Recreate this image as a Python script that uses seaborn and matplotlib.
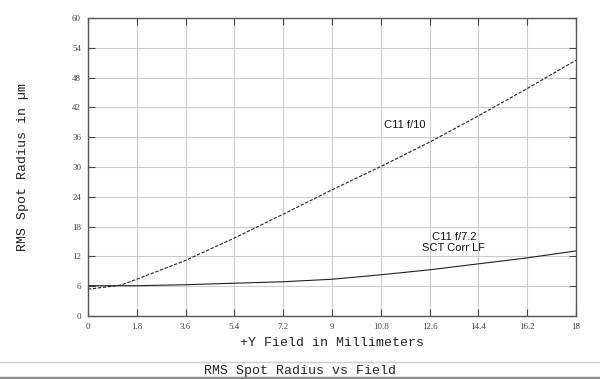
import matplotlib
matplotlib.use("Agg")
import matplotlib.pyplot as plt
import seaborn as sns
import pandas as pd
from matplotlib.lines import Line2D

field_mm = [0, 1.2, 1.8, 3.6, 5.4, 7.2, 9, 10.8, 12.6, 14.4, 16.2, 18]
f10_rms = [5.4, 6.2, 7.4, 11.2, 15.7, 20.5, 25.4, 30.1, 35.0, 40.3, 45.8, 51.5]
f72_rms = [6.1, 6.1, 6.1, 6.3, 6.6, 6.9, 7.4, 8.3, 9.3, 10.5, 11.7, 13.1]
x_ticks = [0, 1.8, 3.6, 5.4, 7.2, 9, 10.8, 12.6, 14.4, 16.2, 18]
y_ticks = [0, 6, 12, 18, 24, 30, 36, 42, 48, 54, 60]

df = pd.DataFrame({"field": field_mm + field_mm,
                   "rms": f10_rms + f72_rms,
                   "series": ["C11 f/10"] * len(field_mm) + ["C11 f/7.2 SCT Corr LF"] * len(field_mm)})

sns.set_theme(style="white")
plt.rcParams["font.family"] = ["DejaVu Sans"]

fig = plt.figure(figsize=(6.0, 3.79), dpi=100)
ax = fig.add_axes([88/600, 1-316/379, (576-88)/600, (316-18)/379])

sns.lineplot(data=df, x="field", y="rms", hue="series", style="series",
             palette=["#222222", "#222222"],
             dashes={"C11 f/10": (3, 1.5), "C11 f/7.2 SCT Corr LF": ""},
             linewidth=0.8, ax=ax, legend=False)

ax.set_xlim(0, 18)
ax.set_ylim(0, 60)
ax.set_xticks(x_ticks)
ax.set_yticks(y_ticks)
ax.set_xticklabels([f"{t:g}" for t in x_ticks], fontsize=6.5, family="Liberation Serif", color="#444444")
ax.set_yticklabels([f"{t:g}" for t in y_ticks], fontsize=6.5, family="Liberation Serif", color="#444444")
ax.grid(True, color="#cccccc", linewidth=0.8)
ax.tick_params(direction="in", length=5, width=0.8, color="#444444",
               top=True, right=True, bottom=True, left=True, pad=5)
for s in ax.spines.values():
    s.set_color("#555555")
    s.set_linewidth(1.0)

ax.set_xlabel("+Y Field in Millimeters", family="Liberation Mono", fontsize=9.5, color="#222222", labelpad=4)
ax.set_ylabel("RMS Spot Radius in \u00b5m", family="Liberation Mono", fontsize=9.5, color="#222222", labelpad=31)

ax.text(11.7, 38.5, "C11 f/10", family="Liberation Sans", fontsize=8, ha="center", va="center", color="#111111")
ax.text(13.5, 14.8, "C11 f/7.2\nSCT Corr LF", family="Liberation Sans", fontsize=8, ha="center", va="center",
        color="#111111", linespacing=1.1)

fig.add_artist(Line2D([0, 1], [1-362/379, 1-362/379], color="#cccccc", linewidth=1.0, transform=fig.transFigure))
fig.add_artist(Line2D([0, 1], [1-378/379, 1-378/379], color="#8a8a8a", linewidth=2.5, transform=fig.transFigure))
fig.text(0.5, 1-371/379, "RMS Spot Radius vs Field", family="Liberation Mono", fontsize=9.5,
         ha="center", va="center", color="#222222")

fig.savefig("out.png", dpi=100, facecolor="white")
